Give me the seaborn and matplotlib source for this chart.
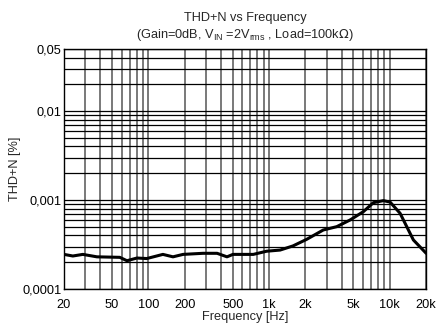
import matplotlib

matplotlib.use("Agg")
import matplotlib.pyplot as plt
import pandas as pd
import seaborn as sns

# THD+N curve
freq_hz = [20, 23.7, 28.7, 37.5, 58, 66.5, 80.5, 97, 132, 160, 194, 284, 371,
           448, 502, 574, 740, 955, 1233, 1577, 2050, 2812, 3631, 4688, 6040,
           7311, 8840, 10040, 12160, 15670, 20000]
thd_pct = [2.45e-4, 2.35e-4, 2.45e-4, 2.3e-4, 2.27e-4, 2.08e-4, 2.23e-4,
           2.2e-4, 2.45e-4, 2.3e-4, 2.45e-4, 2.52e-4, 2.52e-4, 2.3e-4, 2.45e-4,
           2.45e-4, 2.45e-4, 2.66e-4, 2.74e-4, 3.05e-4, 3.62e-4, 4.61e-4,
           5.02e-4, 5.97e-4, 7.41e-4, 9.35e-4, 9.85e-4, 9.5e-4, 7.1e-4,
           3.56e-4, 2.52e-4]

x_ticks = [20, 50, 100, 200, 500, 1000, 2000, 5000, 10000, 20000]
x_labels = ["20", "50", "100", "200", "500", "1k", "2k", "5k", "10k", "20k"]
y_ticks = [0.0001, 0.001, 0.01, 0.05]
y_labels = ["0,0001", "0,001", "0,01", "0,05"]

df = pd.DataFrame({"freq": freq_hz, "thd": thd_pct})

sns.set_style("white")
plt.rcParams["font.family"] = ["Liberation Sans", "DejaVu Sans"]
FS = 9.2

fig = plt.figure(figsize=(4.38, 3.24), dpi=100)
ax = fig.add_axes([0.146, 0.108, 0.827, 0.741])
ax.set_xscale("log")
ax.set_yscale("log")

# grid: grey verticals, black horizontals
v_lines = [m * 10 ** e for e in range(1, 5) for m in range(1, 10)]
v_lines = [v for v in v_lines if 20 <= v <= 20000]
h_lines = [m * 10 ** e for e in (-4, -3, -2) for m in range(1, 10)]
h_lines = [h for h in h_lines if 1e-4 <= h <= 0.05]
for v in v_lines:
    ax.axvline(v, color="#555555", lw=1.1, zorder=1)
for h in h_lines:
    ax.axhline(h, color="black", lw=0.9, zorder=1)

sns.lineplot(data=df, x="freq", y="thd", color="black", lw=2.2, ax=ax, zorder=3)

ax.set_xlim(20, 20000)
ax.set_ylim(0.0001, 0.05)
ax.set_xticks(x_ticks, x_labels)
ax.set_yticks(y_ticks, y_labels)
ax.minorticks_off()
ax.tick_params(length=0, labelsize=FS, colors="black")
ax.tick_params(axis="x", pad=7)
ax.tick_params(axis="y", pad=1.5)
for s in ax.spines.values():
    s.set_color("black")
    s.set_linewidth(1.0)

ax.set_xlabel("Frequency [Hz]", fontsize=FS)
ax.xaxis.set_label_coords(0.5, -0.093)
ax.set_ylabel("THD+N [%]", fontsize=FS)
ax.yaxis.set_label_coords(-0.119, 0.5)
ax.set_title("THD+N vs Frequency\n"
             r"(Gain=0dB, $\mathregular{V_{IN}}$ =2$\mathregular{V_{rms}}$ , Load=100k$\Omega$)",
             fontsize=FS, pad=8, linespacing=1.25)

plt.savefig("out.png", dpi=100)
plt.close()
